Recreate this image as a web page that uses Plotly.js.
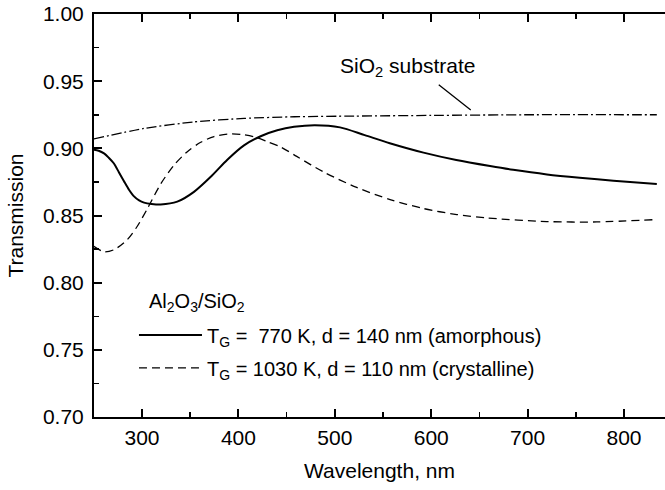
<!DOCTYPE html>
<html>
<head>
<meta charset="utf-8">
<script src="https://cdn.plot.ly/plotly-3.0.1.min.js"></script>
<style>html,body{margin:0;padding:0;background:#fff;}#chart{width:665px;height:490px;}</style>
</head>
<body>
<div id="chart"></div>
<script>
// Wavelength (nm) and transmission values
const amorphousWl = [250, 255, 260.6, 265.5, 270.9, 276, 281.3, 286.5, 291.7, 297, 302.1, 310, 319.4, 336.6, 353.9, 371.3, 388.5, 405.8, 423.1, 440.3, 457.7, 479.4, 505.4, 531, 557, 592, 626, 661, 685, 720, 754, 789, 834];
const amorphousT  = [0.8990, 0.8982, 0.8962, 0.8930, 0.8887, 0.8822, 0.8755, 0.8692, 0.8642, 0.8612, 0.8596, 0.8586, 0.8582, 0.8603, 0.8676, 0.8788, 0.8915, 0.9022, 0.9090, 0.9134, 0.9160, 0.9172, 0.9156, 0.9098, 0.9038, 0.8968, 0.8913, 0.8868, 0.8840, 0.8806, 0.8781, 0.8759, 0.8735];

const crystallineWl = [250, 260.6, 270.9, 284.7, 295.1, 305.5, 319.4, 333.2, 347, 360.9, 374.7, 388.5, 402.4, 416.2, 430, 443.9, 460.5, 488.1, 522.7, 557.3, 591.8, 626.5, 657.6, 719.8, 771.7, 834];
const crystallineT  = [0.827, 0.823, 0.8245, 0.832, 0.842, 0.855, 0.8735, 0.8875, 0.8975, 0.9045, 0.9088, 0.9106, 0.9104, 0.9086, 0.9050, 0.9010, 0.8940, 0.8825, 0.8709, 0.8619, 0.8552, 0.8507, 0.8482, 0.8455, 0.8452, 0.847];

const substrateWl = [250, 302, 354, 406, 458, 520, 600, 700, 834];
const substrateT  = [0.907, 0.9148, 0.9197, 0.9223, 0.9235, 0.924, 0.9245, 0.925, 0.925];

const legendTitle = 'Al<sub>2</sub>O<sub>3</sub>/SiO<sub>2</sub>';
const amorphousName = 'T<sub>G</sub> =\u00A0\u00A0770 K, d = 140 nm (amorphous)';
const crystallineName = 'T<sub>G</sub> = 1030 K, d = 110 nm (crystalline)';
const substrateLabel = 'SiO<sub>2</sub> substrate';

const FONT = 'Liberation Sans, Arial, sans-serif';

const traces = [
  {x: amorphousWl, y: amorphousT, mode: 'lines', name: amorphousName, legendgroup: 'a',
   line: {color: '#000', width: 2, shape: 'spline', smoothing: 0.8}},
  {x: crystallineWl, y: crystallineT, mode: 'lines', name: crystallineName, legendgroup: 'c',
   line: {color: '#000', width: 1.3, dash: '8px,5px', shape: 'spline', smoothing: 0.8}},
  {x: substrateWl, y: substrateT, mode: 'lines', name: 'SiO2 substrate', showlegend: false,
   line: {color: '#000', width: 1.3, dash: '10px,3px,2px,3px', shape: 'spline', smoothing: 0.6}}
];

const layout = {
  width: 665, height: 490,
  margin: {l: 94, r: 0, t: 14, b: 73},
  paper_bgcolor: '#fff', plot_bgcolor: '#fff',
  font: {family: FONT, size: 21, color: '#000'},
  showlegend: true,
  legend: {
    x: 0.07, y: 0.252, xanchor: 'left', yanchor: 'top',
    bgcolor: 'rgba(0,0,0,0)', borderwidth: 0,
    font: {family: FONT, size: 20, color: '#000'},
    itemwidth: 63, tracegroupgap: 4
  },
  xaxis: {
    range: [250.2, 842.5], showgrid: false, zeroline: false,
    showline: true, linecolor: '#000', linewidth: 2, mirror: 'ticks',
    ticks: 'inside', ticklen: 8, tickwidth: 2, tickcolor: '#000',
    tick0: 0, dtick: 100,
    minor: {ticks: 'inside', ticklen: 5, tickwidth: 1.5, tickcolor: '#000', dtick: 50, tick0: 0, showgrid: false},
    tickfont: {family: FONT, size: 21, color: '#000'},
    ticklabelstandoff: 1,
    title: {text: 'Wavelength, nm', font: {family: FONT, size: 21, color: '#000'}, standoff: 15}
  },
  yaxis: {
    range: [0.70, 1.00], showgrid: false, zeroline: false,
    showline: true, linecolor: '#000', linewidth: 2, mirror: false,
    ticks: 'inside', ticklen: 8, tickwidth: 2, tickcolor: '#000',
    tick0: 0.7, dtick: 0.05, tickformat: '.2f',
    minor: {ticks: 'inside', ticklen: 5, tickwidth: 1.5, tickcolor: '#000', dtick: 0.025, showgrid: false},
    tickfont: {family: FONT, size: 21, color: '#000'},
    ticklabelstandoff: 4,
    title: {text: 'Transmission', font: {family: FONT, size: 21, color: '#000'}, standoff: 14}
  },
  annotations: [
    {x: 575, y: 0.9605, xref: 'x', yref: 'y', xanchor: 'center', yanchor: 'middle',
     text: substrateLabel, showarrow: false, font: {family: FONT, size: 21, color: '#000'}},
    {x: 641, y: 0.9285, xref: 'x', yref: 'y', text: ' ', showarrow: true, arrowhead: 0,
     arrowwidth: 1.3, arrowcolor: '#000', ax: -34, ay: -27, font: {size: 4}},
    {x: 0.0928, y: 0.2829, xref: 'paper', yref: 'paper', xanchor: 'left', yanchor: 'middle',
     text: legendTitle, showarrow: false, font: {family: FONT, size: 20, color: '#000'}}
  ]
};

Plotly.newPlot('chart', traces, layout, {displayModeBar: false, staticPlot: true});
</script>
</body>
</html>
